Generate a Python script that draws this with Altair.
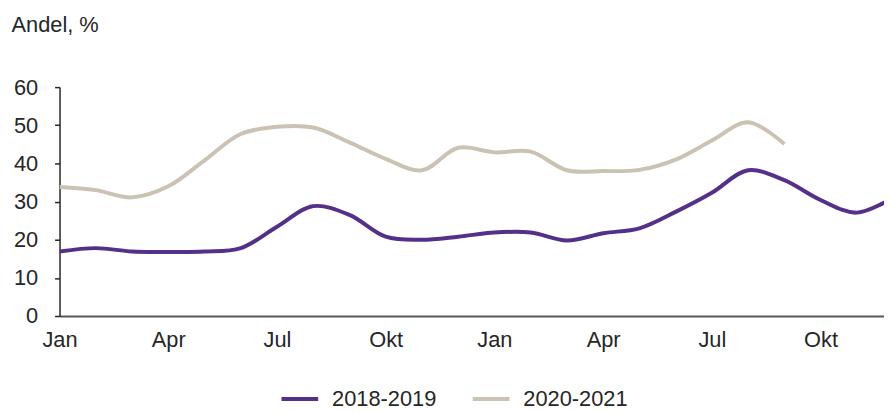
import altair as alt
import pandas as pd

months = list(range(24))
s1_name = "2018-2019"
s2_name = "2020-2021"
s1_values = [16.9, 17.8, 16.9, 16.8, 16.9, 17.8, 23.4, 28.8, 26.5, 20.8, 20.0, 20.8,
             21.9, 21.9, 19.8, 21.7, 23.0, 27.3, 32.3, 38.2, 35.6, 30.4, 27.1, 31.0]
s2_values = [33.8, 33.0, 31.1, 34.0, 40.8, 47.7, 49.6, 49.4, 45.5, 41.2, 38.2, 44.1,
             42.9, 43.1, 38.2, 38.0, 38.3, 41.0, 46.0, 50.8, 45.1]
tick_months = [0, 3, 6, 9, 12, 15, 18, 21]
tick_names = ["Jan", "Apr", "Jul", "Okt"]
y_ticks = [0, 10, 20, 30, 40, 50, 60]

rows = []
for m, v in zip(months, s1_values):
    rows.append({"month": m, "value": v, "series": s1_name})
for m, v in zip(months, s2_values):
    rows.append({"month": m, "value": v, "series": s2_name})
df = pd.DataFrame(rows)

FONT = "Liberation Sans"
TXT = "#262626"

label_expr = "[" + ",".join("'%s'" % n for n in tick_names) + "][floor(datum.value/3) % 4]"

chart = alt.Chart(df).mark_line(
    interpolate="catmull-rom", strokeWidth=4, clip=True
).encode(
    x=alt.X("month:Q",
            scale=alt.Scale(domain=[0, 22.75], nice=False, zero=False),
            axis=alt.Axis(values=tick_months, labelExpr=label_expr, title=None,
                          ticks=False, grid=False, labelPadding=14, labelFlush=False,
                          labelFontSize=22, labelFont=FONT, labelColor=TXT,
                          domainColor="#595959", domainWidth=2)),
    y=alt.Y("value:Q",
            scale=alt.Scale(domain=[0, 60], nice=False),
            axis=alt.Axis(values=y_ticks, title=None, grid=False, tickSize=5,
                          tickColor="#262626", tickWidth=1.5, labelPadding=17,
                          labelFontSize=22, labelFont=FONT, labelColor=TXT,
                          domainColor="#262626", domainWidth=1.5)),
    color=alt.Color("series:N",
                    scale=alt.Scale(domain=[s1_name, s2_name], range=["#553089", "#cbc2b4"]),
                    legend=alt.Legend(title=None, orient="none", direction="horizontal",
                                      legendX=222, legendY=294, symbolType="stroke",
                                      symbolSize=1369, symbolStrokeWidth=4,
                                      labelFontSize=22, labelFont=FONT, labelColor=TXT,
                                      labelOffset=12, columnPadding=28)),
).properties(
    width=832, height=231,
    padding={"left": 52, "top": 78, "right": 0, "bottom": 95},
    autosize=alt.AutoSizeParams(type="none"),
    title=alt.TitleParams(text="Andel, %", anchor="start", frame="bounds",
                          fontSize=22, font=FONT, fontWeight="normal", color=TXT,
                          offset=40, dx=-2),
).configure_view(stroke=None)

chart.save("out.html", embed_options={"renderer": "svg", "actions": False})
